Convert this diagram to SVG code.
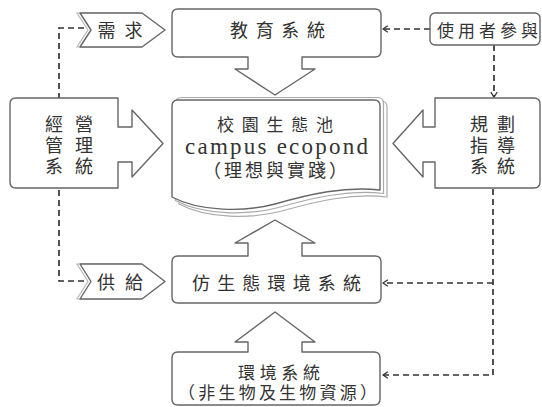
<svg xmlns="http://www.w3.org/2000/svg" width="542" height="407" viewBox="0 0 542 407">
<style>
.box{fill:#fff;stroke:#666;stroke-width:1.4;stroke-linejoin:round}
.back{fill:#fff;stroke:#aaa;stroke-width:1.2}
.shadow{fill:#fff;stroke:#bbb;stroke-width:1.2}
.dash{fill:none;stroke:#333;stroke-width:1.7;stroke-dasharray:6 4}
.t{font-family:"Noto Sans CJK TC","Noto Sans CJK SC",sans-serif;font-size:18px;fill:#333;text-anchor:middle}
.lat{font-family:"Liberation Serif",serif;font-size:23px;fill:#333;text-anchor:middle}
</style>
<defs>
<marker id="ah" viewBox="0 0 10 10" refX="9" refY="5" markerWidth="8" markerHeight="8" markerUnits="userSpaceOnUse" orient="auto">
<path d="M3,1 L9,5 L3,9" fill="none" stroke="#333" stroke-width="1.6"/>
</marker>
</defs>
<g id="connectors">
<polyline class="dash" points="59,99 59,28 84,28"/>
<polyline class="dash" points="59,190 59,281 84,281"/>
<line class="dash" x1="430" y1="29" x2="383" y2="29" marker-end="url(#ah)"/>
<line class="dash" x1="494" y1="45" x2="494" y2="97" marker-end="url(#ah)"/>
<polyline class="dash" points="493,189 493,375 383,375" marker-end="url(#ah)"/>
<line class="dash" x1="493" y1="283" x2="383" y2="283" marker-end="url(#ah)"/>
</g>
<g id="xuqiu">
<polygon class="shadow" points="77,13 139,13 162,30 139,47 77,47 88,30"/>
<polygon class="box" points="80,13 142,13 165,30 142,47 80,47 91,30"/>
<text class="t" x="120" y="37" textLength="45">需求</text>
</g>
<g id="gongji">
<polygon class="shadow" points="77,264 139,264 162,281.5 139,299 77,299 88,281.5"/>
<polygon class="box" points="80,264 142,264 165,281.5 142,299 80,299 91,281.5"/>
<text class="t" x="120" y="289" textLength="46">供給</text>
</g>
<g id="education">
<path class="box" d="M178,9 H375 Q381,9 381,15 V51 Q381,57 375,57 H302 V69 H315 L275,95 L235,69 H248 V57 H178 Q172,57 172,51 V15 Q172,9 178,9 Z"/>
<text class="t" x="277.5" y="37" textLength="95">教育系統</text>
</g>
<g id="user">
<rect class="box" x="430" y="13" width="110" height="32" rx="5"/>
<text class="t" x="487.5" y="37" textLength="101" style="font-size:17px">使用者參與</text>
</g>
<g id="management">
<path class="box" d="M16,98 H118 V127 H132 V110 L163,143.5 L132,177 V162 H118 V188 H16 Q10,188 10,182 V104 Q10,98 16,98 Z"/>
<text class="t" x="69" y="131" textLength="48">經營</text>
<text class="t" x="69" y="152" textLength="48">管理</text>
<text class="t" x="69" y="173" textLength="48">系統</text>
</g>
<g id="planning">
<path class="box" d="M435,98 H534 Q540,98 540,104 V182 Q540,188 534,188 H435 V162 H423 V177 L393,143.5 L423,110 V127 H435 Z"/>
<text class="t" x="492.5" y="131" textLength="45">規劃</text>
<text class="t" x="492.5" y="152" textLength="45">指導</text>
<text class="t" x="492.5" y="173" textLength="45">系統</text>
</g>
<g id="ecopond">
<path class="back" d="M179,107 Q179,101 185,101 H381 Q387,101 387,107 V197 C352,193 317,201 282,211 C252,219 207,219 179,204 Z"/>
<path class="back" d="M175.5,103.5 Q175.5,97.5 181.5,97.5 H377.5 Q383.5,97.5 383.5,103.5 V193.5 C348.5,189.5 313.5,197.5 278.5,207.5 C248.5,215.5 203.5,215.5 175.5,200.5 Z" transform="translate(0,0)"/>
<path class="box" d="M178,100 H374 Q380,100 380,106 V190 C345,186 310,194 275,204 C245,212 200,212 172,197 V106 Q172,100 178,100 Z"/>
<text class="t" x="275" y="131" textLength="116" style="font-size:17px">校園生態池</text>
<text class="lat" x="276.5" y="154" textLength="183">campus ecopond</text>
<text class="t" x="275" y="177" textLength="144">（理想與實踐）</text>
</g>
<g id="bionic">
<path class="box" d="M178,256 H248 V243 H235 L275,220 L315,243 H302 V256 H375 Q381,256 381,262 V297 Q381,303 375,303 H178 Q172,303 172,297 V262 Q172,256 178,256 Z"/>
<text class="t" x="276.5" y="290" textLength="169">仿生態環境系統</text>
</g>
<g id="environment">
<path class="box" d="M178,352 H248 V342 H235 L275,312 L315,342 H302 V352 H374 Q380,352 380,358 V399 Q380,405 374,405 H178 Q172,405 172,399 V358 Q172,352 178,352 Z"/>
<text class="t" x="279" y="379" textLength="82" style="font-size:17px">環境系統</text>
<text class="t" x="277.5" y="399" textLength="199" style="font-size:17px">（非生物及生物資源）</text>
</g>
</svg>
